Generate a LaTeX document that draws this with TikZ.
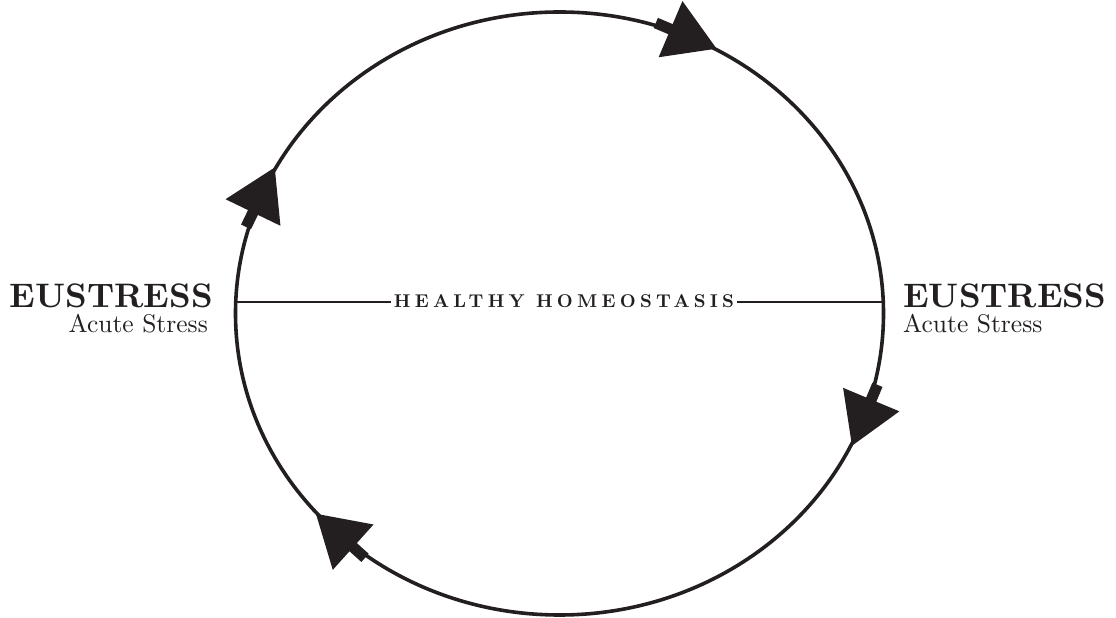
\documentclass[tikz,border=0pt]{standalone}
\usepackage{fontspec}
\usepackage{xcolor}
\usetikzlibrary{positioning,decorations.markings}

\setmainfont{lmroman10-regular}[Extension=.otf, BoldFont=lmroman10-bold]
\newfontfamily\trackfont{lmroman10-bold}[Extension=.otf, LetterSpace=23]

\definecolor{inkblack}{HTML}{231F20}
\newcommand{\flowtip}{%
  \fill[inkblack] (-25,-30.5) -- (25,0) -- (-25,30.5) -- cycle;
  \fill[inkblack] (-41,-5.5) rectangle (-23,5.5);}

\begin{document}
\begin{tikzpicture}[x=1pt, y=1pt, every node/.style={text=inkblack, inner sep=0pt}]
        \tikzstyle{cycleline} = [draw=inkblack, line width=3.6pt]
        \tikzstyle{axisline} = [draw=inkblack, line width=1.9pt]
        \tikzstyle{title} = [font=\fontsize{34}{40}\selectfont\bfseries]
        \tikzstyle{subtitle} = [font=\fontsize{25.5}{30}\selectfont]
        \tikzstyle{centre} = [font=\trackfont\fontsize{18.5}{20}\selectfont, inner xsep=3pt]
        \tikzstyle{flowheads} = [postaction=decorate, decoration={markings,
            mark=at position 0.057 with {\flowtip},
            mark=at position 0.375 with {\flowtip},
            mark=at position 0.565 with {\flowtip},
            mark=at position 0.820 with {\flowtip}}]

        \useasboundingbox (0,0) rectangle (1116,618);

        % the cycle, drawn clockwise
        \draw [cycleline, flowheads] (883.5,304.5)
            arc[start angle=360, end angle=0, x radius=324pt, y radius=301.5pt];

        \node (homeo) [centre, anchor=base] at (564,310.5) {HEALTHY HOMEOSTASIS};
        \coordinate (leftend) at (236,316);
        \coordinate (rightend) at (883,316);

        \node (eusL) [title, anchor=base east] at (213,310) {EUSTRESS};
        \node (acuteL) [subtitle, anchor=base east] at (208,285) {Acute Stress};
        \node (eusR) [title, anchor=base west] at (903,310) {EUSTRESS};
        \node (acuteR) [subtitle, anchor=base west] at (903,285) {Acute Stress};

        \draw [axisline] (leftend) -- (leftend -| homeo.west);
        \draw [axisline] (homeo.east |- rightend) -- (rightend);
    \end{tikzpicture}
\end{document}
